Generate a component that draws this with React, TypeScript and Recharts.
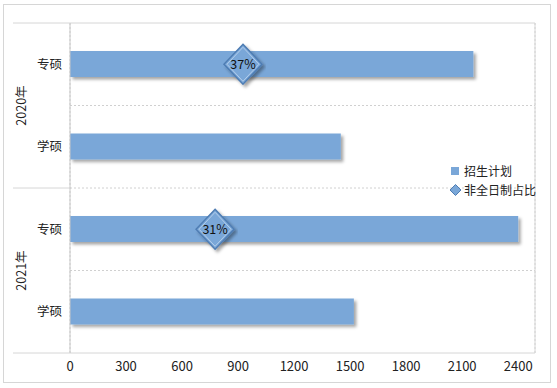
import React from 'react';
import { ComposedChart, Bar, Line, XAxis, YAxis, CartesianGrid } from 'recharts';

const groups = ['2020年', '2020年', '2021年', '2021年'];
const degrees = ['专硕', '学硕', '专硕', '学硕'];
const enrollPlan = [2160, 1450, 2400, 1520];
const partTimeRatio: (number | null)[] = [0.372, null, 0.312, null];
const xTicks = [0, 300, 600, 900, 1200, 1500, 1800, 2100, 2400];
const legendNames = ['招生计划', '非全日制占比'];

const W = 557;
const H = 388;
const MARGIN = { top: 23, right: 22, bottom: 0, left: 0 };
const Y_AXIS_W = 70;
const X_AXIS_H = 35;
const PLOT_H = H - MARGIN.top - MARGIN.bottom - X_AXIS_H;
const BAND = PLOT_H / degrees.length;

const BLUE = '#7aa7d8';
const FONT = '"Noto Sans CJK SC", "Noto Sans", sans-serif';
const FRAME = '#d6d6d6';

const data = degrees.map((d, i) => ({
    key: `${groups[i]}-${d}`,
    degree: d,
    group: groups[i],
    plan: enrollPlan[i],
    ratio: partTimeRatio[i],
}));

const CategoryTick = (props: any) => {
    const { x, y, index } = props;
    const row = data[index];
    const firstOfGroup = index === 0 || data[index - 1].group !== row.group;
    const axisX = x + 8;
    return (
        <g>
            <text x={x} y={y} dy="0.35em" textAnchor="end" fontSize={12.5} fill="#222" fontFamily={FONT}>
                {row.degree}
            </text>
            {firstOfGroup && (
                <>
                    <line x1={13} x2={axisX} y1={y - BAND / 2} y2={y - BAND / 2} stroke={FRAME} />
                    <text
                        x={22}
                        y={y + BAND / 2}
                        transform={`rotate(-90 22 ${y + BAND / 2})`}
                        textAnchor="middle"
                        dy="0.35em"
                        fontSize={12.5}
                        fill="#222"
                        fontFamily={FONT}
                    >
                        {row.group}
                    </text>
                </>
            )}
            {index === data.length - 1 && (
                <line x1={13} x2={axisX} y1={y + BAND / 2} y2={y + BAND / 2} stroke={FRAME} />
            )}
        </g>
    );
};

const BarShape = (props: any) => {
    const { x, y, width, height } = props;
    return <rect x={x} y={y} width={width} height={height} fill={BLUE} filter="url(#barShadow)" />;
};

const DiamondDot = (props: any) => {
    const { cx, cy, payload } = props;
    if (payload == null || payload.ratio == null || cx == null || cy == null) return <g />;
    const rx = 19;
    const ry = 20;
    return (
        <g>
            <polygon
                points={`${cx},${cy - ry} ${cx + rx},${cy} ${cx},${cy + ry} ${cx - rx},${cy}`}
                fill={BLUE}
                stroke="#4f7db3"
                strokeWidth={1.5}
                filter="url(#barShadow)"
            />
            <polygon
                points={`${cx},${cy - ry + 3} ${cx + rx - 3},${cy} ${cx},${cy + ry - 3} ${cx - rx + 3},${cy}`}
                fill="none"
                stroke="#b3cdea"
                strokeWidth={1}
            />
            <text x={cx} y={cy} dy="0.35em" textAnchor="middle" fontSize={12.5} fill="#111" fontFamily={FONT}>
                {`${Math.round(payload.ratio * 100)}%`}
            </text>
        </g>
    );
};

const ChartLegend = () => (
    <div
        style={{
            position: 'absolute',
            left: 450,
            top: 161,
            fontFamily: FONT,
            fontSize: 12,
            color: '#222',
            lineHeight: '19px',
        }}
    >
        <div style={{ display: 'flex', alignItems: 'center' }}>
            <svg width={12} height={12} style={{ marginRight: 2 }}>
                <rect x={1} y={2} width={8} height={8} fill={BLUE} />
            </svg>
            {legendNames[0]}
        </div>
        <div style={{ display: 'flex', alignItems: 'center' }}>
            <svg width={12} height={12} style={{ marginRight: 2 }}>
                <polygon points="5.5,0.5 11,6 5.5,11.5 0,6" fill={BLUE} stroke="#4f7db3" />
            </svg>
            {legendNames[1]}
        </div>
    </div>
);

export default function App() {
    return (
        <div style={{ position: 'absolute', left: 0, top: 0, width: W, height: H, background: '#fff' }}>
            <div
                style={{
                    position: 'absolute',
                    left: 3,
                    top: 4,
                    width: 546,
                    height: 377,
                    border: `1px solid ${FRAME}`,
                }}
            />
            <ComposedChart width={W} height={H} data={data} layout="vertical" margin={MARGIN}>
                <defs>
                    <filter id="barShadow" x="-10%" y="-30%" width="120%" height="180%">
                        <feDropShadow dx="2.5" dy="2.5" stdDeviation="1.5" floodColor="#000" floodOpacity="0.35" />
                    </filter>
                </defs>
                <CartesianGrid
                    stroke="#d0d0d0"
                    strokeDasharray="2 2"
                    horizontalCoordinatesGenerator={({ offset }: any) =>
                        data.slice(1).map((_, i) => offset.top + ((i + 1) * offset.height) / data.length)
                    }
                />
                <CartesianGrid
                    stroke={FRAME}
                    horizontalCoordinatesGenerator={({ offset }: any) => [offset.top, offset.top + offset.height]}
                    verticalCoordinatesGenerator={({ offset }: any) => [offset.left + offset.width]}
                />
                <XAxis
                    type="number"
                    xAxisId="plan"
                    domain={[0, 2490]}
                    ticks={xTicks}
                    allowDataOverflow
                    height={X_AXIS_H}
                    axisLine={false}
                    tickLine={false}
                    tickSize={0}
                    tickMargin={9}
                    tick={{ fill: '#222', fontSize: 13, fontFamily: FONT }}
                    interval={0}
                />
                <XAxis type="number" xAxisId="ratio" domain={[0, 1]} hide />
                <YAxis
                    type="category"
                    dataKey="key"
                    width={Y_AXIS_W}
                    axisLine={{ stroke: '#c8c8c8' }}
                    tickLine={false}
                    tickSize={0}
                    tickMargin={8}
                    tick={<CategoryTick />}
                    interval={0}
                />
                <Bar
                    xAxisId="plan"
                    dataKey="plan"
                    name={legendNames[0]}
                    barSize={26}
                    shape={<BarShape />}
                    isAnimationActive={false}
                />
                <Line
                    xAxisId="ratio"
                    dataKey="ratio"
                    name={legendNames[1]}
                    stroke="none"
                    dot={<DiamondDot />}
                    activeDot={false}
                    isAnimationActive={false}
                />
            </ComposedChart>
            <ChartLegend />
        </div>
    );
}
